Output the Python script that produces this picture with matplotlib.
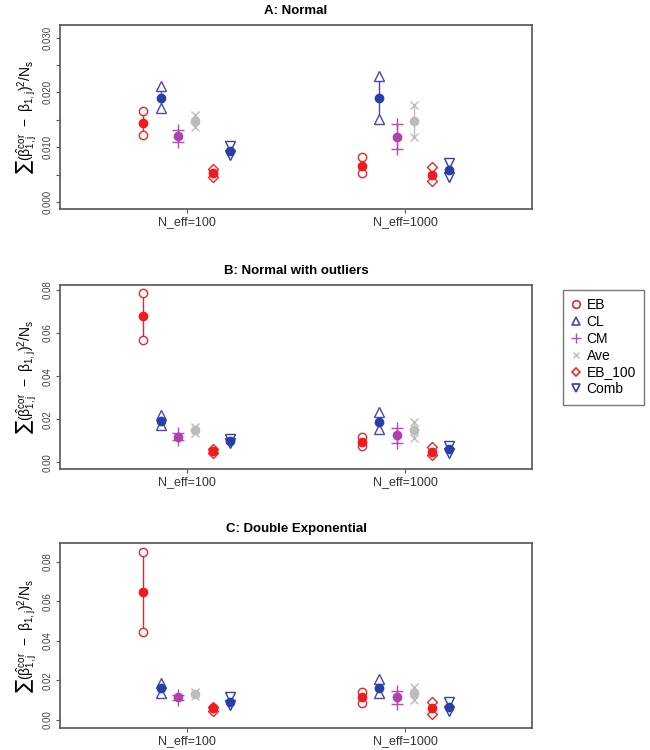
import matplotlib
matplotlib.use("Agg")
import matplotlib.pyplot as plt
from matplotlib.lines import Line2D

plt.rcParams["font.family"] = ["Liberation Sans", "DejaVu Sans"]
plt.rcParams["mathtext.fontset"] = "dejavusans"
plt.rcParams["mathtext.default"] = "regular"

methods = ["EB", "CL", "CM", "Ave", "EB_100", "Comb"]
groups = ["N_eff=100", "N_eff=1000"]
titles = ["A: Normal", "B: Normal with outliers", "C: Double Exponential"]

# values per method, [N_eff=100, N_eff=1000]
A_mid = [[0.0144, 0.0066], [0.0189, 0.0189], [0.0120, 0.0119], [0.0148, 0.0147], [0.0052, 0.0049], [0.0093, 0.0058]]
A_lo = [[0.0122, 0.0052], [0.0172, 0.0151], [0.0110, 0.0096], [0.0137, 0.0119], [0.0046, 0.0038], [0.0086, 0.0046]]
A_hi = [[0.0166, 0.0082], [0.0212, 0.0230], [0.0131, 0.0142], [0.0159, 0.0177], [0.0060, 0.0064], [0.0103, 0.0071]]

B_mid = [[0.0677, 0.0096], [0.0192, 0.0189], [0.0119, 0.0127], [0.0150, 0.0150], [0.0054, 0.0049], [0.0099, 0.0060]]
B_lo = [[0.0569, 0.0075], [0.0173, 0.0153], [0.0104, 0.0090], [0.0138, 0.0114], [0.0044, 0.0034], [0.0088, 0.0045]]
B_hi = [[0.0788, 0.0118], [0.0220, 0.0235], [0.0134, 0.0161], [0.0162, 0.0186], [0.0064, 0.0073], [0.0110, 0.0074]]

C_mid = [[0.0648, 0.0115], [0.0160, 0.0160], [0.0115, 0.0115], [0.0131, 0.0135], [0.0059, 0.0059], [0.0092, 0.0067]]
C_lo = [[0.0446, 0.0088], [0.0135, 0.0134], [0.0103, 0.0083], [0.0121, 0.0101], [0.0048, 0.0029], [0.0076, 0.0048]]
C_hi = [[0.0850, 0.0143], [0.0188, 0.0207], [0.0127, 0.0147], [0.0141, 0.0168], [0.0068, 0.0092], [0.0118, 0.0092]]

panels = [(A_mid, A_lo, A_hi), (B_mid, B_lo, B_hi), (C_mid, C_lo, C_hi)]

edge_colors = ["#e8262b", "#4848b0", "#b848b8", "#bcbcbc", "#e82828", "#3040a8"]
fill_colors = ["#ee1c1c", "#2a3ea8", "#b040b0", "#bcbcbc", "#ee1c1c", "#2a3ea8"]
bound_markers = ["o", "^", "+", "x", "D", "v"]
bound_sizes = [6, 6.5, 8, 6, 5, 6.5]
offsets = [-0.2, -0.12, -0.04, 0.04, 0.12, 0.2]

ylims = [(-0.0013, 0.0323), (-0.0031, 0.0823), (-0.0039, 0.0893)]
yticks = [[0.000, 0.005, 0.010, 0.015, 0.020, 0.025, 0.030],
          [0.00, 0.02, 0.04, 0.06, 0.08],
          [0.00, 0.02, 0.04, 0.06, 0.08]]
yticklabels = [["0.000", "", "0.010", "", "0.020", "", "0.030"],
               ["0.00", "0.02", "0.04", "0.06", "0.08"],
               ["0.00", "0.02", "0.04", "0.06", "0.08"]]

fig = plt.figure(figsize=(6.5, 7.5), dpi=100)
positions = [(0.0923, 0.7213, 0.7262, 0.2453),
             (0.0923, 0.3747, 0.7262, 0.2453),
             (0.0923, 0.0297, 0.7262, 0.2459)]

ylab = r'$\sum(\hat{\beta}^{cor}_{1,j}\ -\ \beta_{1,j})^2/N_s$'
box_col = "#555555"

for p, (mid, lo, hi) in enumerate(panels):
    ax = fig.add_axes(positions[p])
    for m in range(len(methods)):
        for g in range(len(groups)):
            x = g + 1 + offsets[m]
            ax.plot([x, x], [lo[m][g], hi[m][g]], color=edge_colors[m], lw=1.0, zorder=1)
            mk = bound_markers[m]
            if mk in ("+", "x"):
                ax.plot([x, x], [lo[m][g], hi[m][g]], linestyle="none", marker=mk,
                        markersize=bound_sizes[m], color=edge_colors[m], mew=1.0, zorder=2)
            else:
                ax.plot([x, x], [lo[m][g], hi[m][g]], linestyle="none", marker=mk,
                        markersize=bound_sizes[m], markerfacecolor="white",
                        markeredgecolor=edge_colors[m], mew=1.0, zorder=2)
            ax.plot([x], [mid[m][g]], linestyle="none", marker="o", markersize=6,
                    color=fill_colors[m], zorder=3)
    ax.set_xlim(0.42, 2.58)
    ax.set_ylim(*ylims[p])
    ax.set_xticks([1, 2])
    ax.set_xticklabels(groups, fontsize=9, color="#333333")
    ax.set_yticks(yticks[p])
    ax.set_yticklabels(yticklabels[p], fontsize=7, rotation=90, va="center", color="#444444")
    ax.tick_params(axis="both", direction="out", length=3, color=box_col, width=0.8)
    ax.tick_params(axis="x", pad=2)
    ax.tick_params(axis="y", pad=2)
    for s in ax.spines.values():
        s.set_color(box_col)
        s.set_linewidth(1.2)
    ax.set_title(titles[p], fontsize=9.5, fontweight="bold", pad=8)
    ax.set_ylabel(ylab, fontsize=10, labelpad=3)

handles = []
for m in range(len(methods)):
    mk = bound_markers[m]
    if mk in ("+", "x"):
        h = Line2D([], [], linestyle="none", marker=mk, markersize=bound_sizes[m] - 1,
                   color=edge_colors[m], mew=1.0)
    else:
        h = Line2D([], [], linestyle="none", marker=mk, markersize=bound_sizes[m] - 0.5,
                   markerfacecolor="white", markeredgecolor=edge_colors[m], mew=1.2)
    handles.append(h)

leg = fig.legend(handles, methods, loc="upper left", bbox_to_anchor=(563 / 650, 1 - 290 / 750),
                 frameon=True, fancybox=False, fontsize=10, handlelength=0.7,
                 handletextpad=0.4, labelspacing=0.2, borderpad=0.6, borderaxespad=0)
leg.get_frame().set_edgecolor(box_col)
leg.get_frame().set_linewidth(1.0)

fig.savefig("out.png", dpi=100)
